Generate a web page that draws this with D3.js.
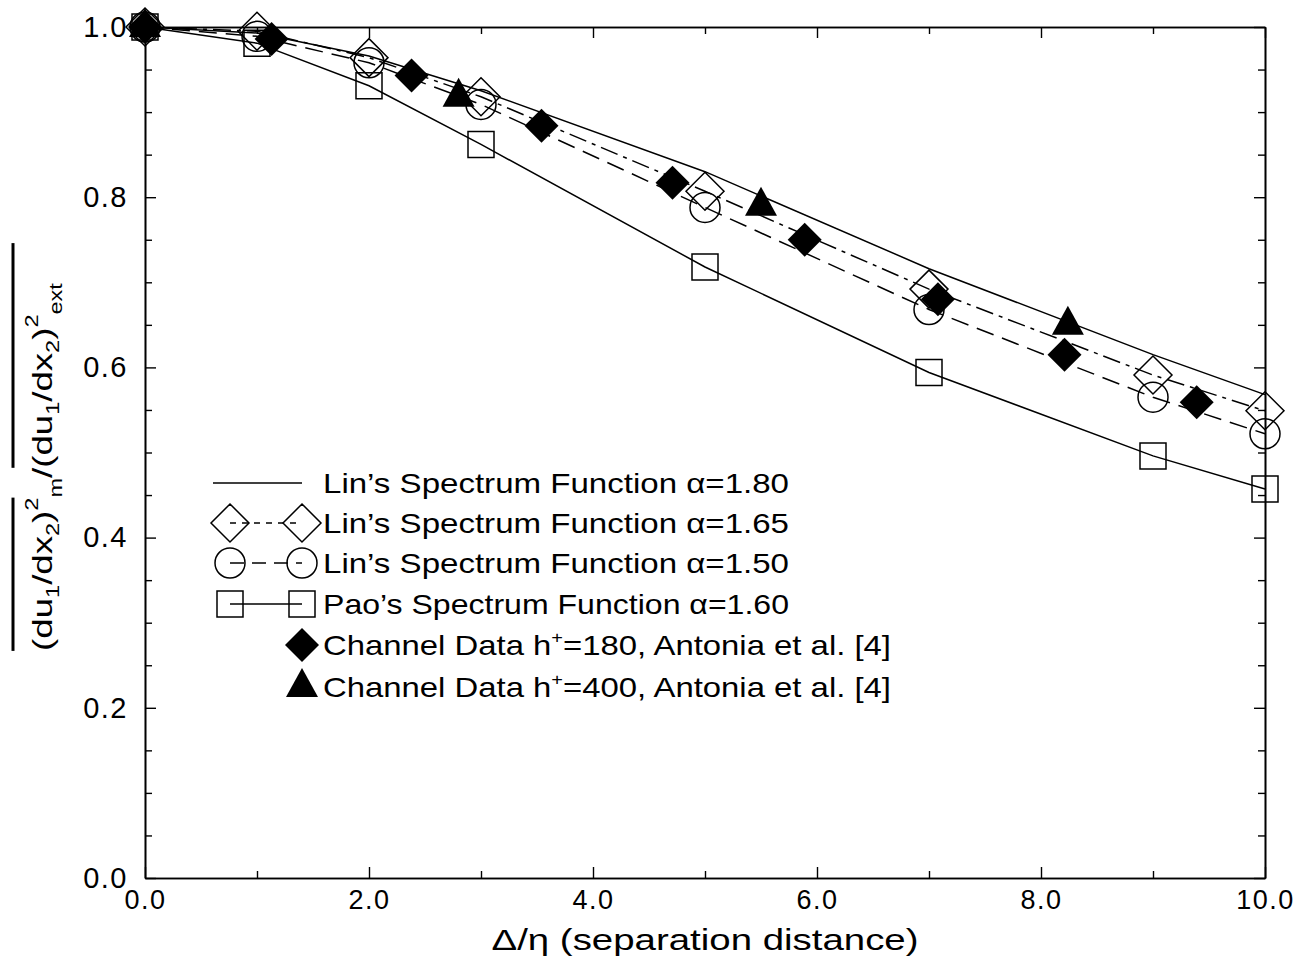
<!DOCTYPE html>
<html>
<head>
<meta charset="utf-8">
<script src="https://cdn.jsdelivr.net/npm/d3@7"></script>
<style>
  body { margin: 0; background: #fff; }
  text { font-family: 'Liberation Sans', Arial, sans-serif; fill: #000; }
</style>
</head>
<body>
<div id="chart"></div>
<script>
// model curves are evaluated at these separations
let modelX = [0, 1, 2, 3, 5, 7, 9, 10]
let lin180 = [1.0, 0.993, 0.966, 0.925, 0.83, 0.716, 0.615, 0.568]
let lin165 = [1.0, 0.995, 0.964, 0.918, 0.807, 0.692, 0.591, 0.549]
let lin150 = [1.0, 0.989, 0.958, 0.909, 0.788, 0.668, 0.565, 0.522]
let pao160 = [1.0, 0.981, 0.931, 0.862, 0.718, 0.594, 0.496, 0.457]

// channel data (Antonia et al.)
let ch180X = [0, 1.13, 2.38, 3.54, 4.71, 5.89, 7.08, 8.21, 9.39]
let ch180Y = [1.0, 0.986, 0.943, 0.884, 0.817, 0.75, 0.68, 0.615, 0.559]
let ch400X = [0, 2.8, 5.5, 8.24]
let ch400Y = [1.0, 0.918, 0.79, 0.65]

let xTickValues = [0, 2, 4, 6, 8, 10]
let yTickValues = [0, 0.2, 0.4, 0.6, 0.8, 1.0]

let legendLabels = [
  "Lin\u2019s Spectrum Function \u03b1=1.80",
  "Lin\u2019s Spectrum Function \u03b1=1.65",
  "Lin\u2019s Spectrum Function \u03b1=1.50",
  "Pao\u2019s Spectrum Function \u03b1=1.60",
  "Channel Data h|+|=180, Antonia et al. [4]",
  "Channel Data h|+|=400, Antonia et al. [4]"
]

let margin = { top: 27, left: 145, right: 34, bottom: 81 }
let width = 1299 - margin.left - margin.right
let height = 959 - margin.top - margin.bottom

let root = d3
  .select('#chart')
  .append('svg')
  .attr('width', 1299)
  .attr('height', 959)

let svg = root
  .append('g')
  .attr('transform', 'translate(' + margin.left + ',' + margin.top + ')')

let xScale = d3.scaleLinear().domain([0, 10]).range([0, width])
let yScale = d3.scaleLinear().domain([0, 1]).range([height, 0])

// marker shapes, open or filled
function markerPath(shape) {
  if (shape === 'diamond') {
    let r = 19
    return `M0,${-r}L${r},0L0,${r}L${-r},0Z`
  }
  if (shape === 'fdiamond') {
    let r = 17
    return `M0,${-r}L${r},0L0,${r}L${-r},0Z`
  }
  if (shape === 'square') {
    let s = 13
    return `M${-s},${-s}H${s}V${s}H${-s}Z`
  }
  if (shape === 'triangle') {
    return 'M0,-19L16,10L-16,10Z'
  }
  if (shape === 'circle') {
    let r = 15
    return `M${r},0A${r},${r} 0 1,1 ${-r},0A${r},${r} 0 1,1 ${r},0Z`
  }
  return ''
}

let series = [
  { values: lin180, dash: null, shape: null },
  { values: lin165, dash: '18,6,4,6', shape: 'diamond' },
  { values: lin150, dash: '18,9', shape: 'circle' },
  { values: pao160, dash: null, shape: 'square' }
]

let line = d3
  .line()
  .x(d => xScale(d[0]))
  .y(d => yScale(d[1]))

// axis frame with inward ticks on all four sides
let axisBottom = d3.axisBottom(xScale).tickValues(xTickValues).tickSizeInner(-11).tickSizeOuter(0).tickFormat(d3.format('.1f')).tickPadding(12)
let axisTop = d3.axisTop(xScale).tickValues(xTickValues).tickSizeInner(-11).tickSizeOuter(0).tickFormat('')
let axisLeft = d3.axisLeft(yScale).tickValues(yTickValues).tickSizeInner(-11).tickSizeOuter(0).tickFormat(d3.format('.1f')).tickPadding(17)
let axisRight = d3.axisRight(yScale).tickValues(yTickValues).tickSizeInner(-11).tickSizeOuter(0).tickFormat('')

let minorX = d3.range(1, 10, 2)
let minorY = d3.range(0, 1.0001, 0.05).filter(v => Math.abs(v * 5 - Math.round(v * 5)) > 1e-6)

svg.append('g').attr('class', 'xaxis').attr('transform', `translate(0,${height})`).call(axisBottom)
svg.append('g').call(axisTop)
svg.append('g').attr('class', 'yaxis').call(axisLeft)
svg.append('g').attr('transform', `translate(${width},0)`).call(axisRight)

svg.append('g').attr('transform', `translate(0,${height})`)
  .call(d3.axisBottom(xScale).tickValues(minorX).tickSizeInner(-7).tickSizeOuter(0).tickFormat(''))
svg.append('g')
  .call(d3.axisTop(xScale).tickValues(minorX).tickSizeInner(-7).tickSizeOuter(0).tickFormat(''))
svg.append('g')
  .call(d3.axisLeft(yScale).tickValues(minorY).tickSizeInner(-7).tickSizeOuter(0).tickFormat(''))
svg.append('g').attr('transform', `translate(${width},0)`)
  .call(d3.axisRight(yScale).tickValues(minorY).tickSizeInner(-7).tickSizeOuter(0).tickFormat(''))

svg.selectAll('.domain').attr('stroke', '#000').attr('stroke-width', 1.6)
svg.selectAll('.tick line').attr('stroke', '#000').attr('stroke-width', 1.4)
svg.selectAll('.tick text')
  .attr('font-family', "'Liberation Sans', Arial, sans-serif")
svg.selectAll('.xaxis .tick text').attr('font-size', 27).attr('letter-spacing', 1.5)
svg.selectAll('.yaxis .tick text').attr('font-size', 29).attr('letter-spacing', 1.5)

// curves
series.forEach(s => {
  svg.append('path')
    .datum(modelX.map((x, i) => [x, s.values[i]]))
    .attr('d', line)
    .attr('fill', 'none')
    .attr('stroke', '#000')
    .attr('stroke-width', 1.5)
    .attr('stroke-dasharray', s.dash)
})

// open markers
series.filter(s => s.shape).forEach(s => {
  svg.append('g')
    .selectAll('path')
    .data(modelX.map((x, i) => [x, s.values[i]]))
    .enter()
    .append('path')
    .attr('transform', d => `translate(${xScale(d[0])},${yScale(d[1])})`)
    .attr('d', markerPath(s.shape))
    .attr('fill', 'none')
    .attr('stroke', '#000')
    .attr('stroke-width', 1.5)
})

// filled channel data markers
svg.append('g')
  .selectAll('path')
  .data(ch180X.map((x, i) => [x, ch180Y[i]]))
  .enter()
  .append('path')
  .attr('transform', d => `translate(${xScale(d[0])},${yScale(d[1])})`)
  .attr('d', markerPath('fdiamond'))
  .attr('fill', '#000')

svg.append('g')
  .selectAll('path')
  .data(ch400X.map((x, i) => [x, ch400Y[i]]))
  .enter()
  .append('path')
  .attr('transform', d => `translate(${xScale(d[0])},${yScale(d[1])})`)
  .attr('d', markerPath('triangle'))
  .attr('fill', '#000')

// legend
let legend = root.append('g')
let rowY = [483, 523, 563, 604, 645, 687]
let legendItems = [
  { dash: null, shape: null, line: true },
  { dash: '6,6', shape: 'diamond', line: true },
  { dash: '14,8', shape: 'circle', line: true },
  { dash: null, shape: 'square', line: true },
  { shape: 'fdiamond', fill: true },
  { shape: 'triangle', fill: true }
]

legendItems.forEach((item, i) => {
  let y = rowY[i]
  let g = legend.append('g').attr('transform', `translate(0,${y})`)
  if (item.line) {
    let x0 = item.shape ? 230 : 213
    let x1 = 302
    g.append('line')
      .attr('x1', x0).attr('x2', x1)
      .attr('stroke', '#000').attr('stroke-width', 1.5)
      .attr('stroke-dasharray', item.dash)
    if (item.shape) {
      ;[x0, x1].forEach(x => {
        g.append('path')
          .attr('transform', `translate(${x},0)`)
          .attr('d', markerPath(item.shape))
          .attr('fill', 'none').attr('stroke', '#000').attr('stroke-width', 1.5)
      })
    }
  } else {
    g.append('path')
      .attr('transform', `translate(302,0)`)
      .attr('d', markerPath(item.shape))
      .attr('fill', '#000')
  }
  let parts = legendLabels[i].split('|')
  let t = g.append('text')
    .attr('x', 323)
    .attr('y', 10)
    .attr('font-size', 28)
    .attr('textLength', 466)
    .attr('lengthAdjust', 'spacingAndGlyphs')
  if (parts.length === 1) {
    t.text(parts[0])
  } else {
    t.append('tspan').text(parts[0])
    t.append('tspan').attr('font-size', 17).attr('dy', -12).text(parts[1])
    t.append('tspan').attr('dy', 12).text(parts[2])
    t.attr('textLength', 568)
  }
})

// x axis title
root.append('text')
  .attr('x', 705)
  .attr('y', 950)
  .attr('text-anchor', 'middle')
  .attr('font-size', 30)
  .attr('textLength', 427)
  .attr('lengthAdjust', 'spacingAndGlyphs')
  .text('\u0394/\u03b7 (separation distance)')

// y axis title, rotated, with overbars
let yTitle = root.append('g').attr('transform', 'translate(52,467) rotate(-90)')
let yt = yTitle.append('text')
  .attr('font-size', 28)
  .attr('text-anchor', 'middle')

let yParts = [
  ['(du', 0], ['1', 7], ['/dx', -7], ['2', 7], [')', -7], ['2', -14], ['m', 24],
  ['/(du', -10], ['1', 7], ['/dx', -7], ['2', 7], [')', -7], ['2', -14], ['ext', 24]
]
let small = [1, 3, 5, 6, 8, 10, 12, 13]
yParts.forEach((p, i) => {
  yt.append('tspan')
    .attr('dy', p[1])
    .attr('font-size', small.includes(i) ? 18 : 28)
    .text(p[0])
})

let tw = yt.node().getComputedTextLength()
let sx = 368 / tw
yt.attr('transform', `scale(${sx},1)`)

// positions of the characters for the bars
let node = yt.node()
let chars = yParts.map(p => p[0]).join('')
let endFirst = '(du1/dx2)2'.length
let startSecond = '(du1/dx2)2m/'.length
let a0 = node.getStartPositionOfChar(0).x * sx
let a1 = node.getEndPositionOfChar(endFirst - 1).x * sx
let b0 = node.getStartPositionOfChar(startSecond).x * sx
let b1 = node.getEndPositionOfChar(chars.length - 1).x * sx

yTitle.append('line').attr('x1', a0).attr('x2', a1).attr('y1', -39).attr('y2', -39)
  .attr('stroke', '#000').attr('stroke-width', 3)
yTitle.append('line').attr('x1', b0).attr('x2', b1 + 40).attr('y1', -39).attr('y2', -39)
  .attr('stroke', '#000').attr('stroke-width', 3)
</script>
</body>
</html>
